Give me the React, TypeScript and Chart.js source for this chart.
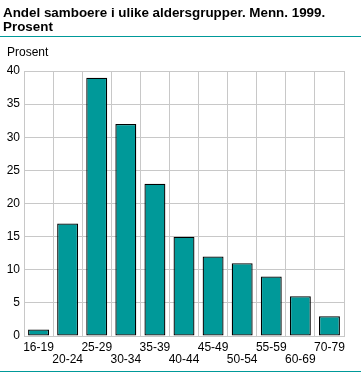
import React, { useEffect, useRef } from "react";
import { Chart, registerables } from "chart.js";

Chart.register(...registerables);

const titleLines = ["Andel samboere i ulike aldersgrupper. Menn. 1999.", "Prosent"];
const yAxisLabel = "Prosent";
const categories = ["16-19", "20-24", "25-29", "30-34", "35-39", "40-44", "45-49", "50-54", "55-59", "60-69", "70-79"];
const values = [1, 17, 39, 32, 23, 15, 12, 11, 9, 6, 3];
const yTicks = [0, 5, 10, 15, 20, 25, 30, 35, 40];

const TEAL = "#009999";
const GRID = "#c8c8c8";
const FONT = "'Liberation Sans', Arial, sans-serif";

const decorPlugin = {
  id: "decor",
  afterDraw(chart: any) {
    const ctx = chart.ctx;
    ctx.save();
    ctx.strokeStyle = TEAL;
    ctx.lineWidth = 1;
    ctx.beginPath();
    ctx.moveTo(0, 36.5);
    ctx.lineTo(361, 36.5);
    ctx.moveTo(0, 371.5);
    ctx.lineTo(361, 371.5);
    ctx.stroke();
    ctx.fillStyle = "#000";
    ctx.font = `12px ${FONT}`;
    ctx.textBaseline = "middle";
    ctx.textAlign = "left";
    ctx.fillText(yAxisLabel, 7, 53);
    ctx.restore();
  },
};

export default function App() {
  const ref = useRef<HTMLCanvasElement | null>(null);
  useEffect(() => {
    if (!ref.current) return;
    const chart = new Chart(ref.current, {
      type: "bar",
      data: {
        labels: categories,
        datasets: [
          {
            data: values,
            backgroundColor: TEAL,
            borderColor: "#000",
            borderWidth: 1.3,
            borderSkipped: false,
            barPercentage: 0.72,
            categoryPercentage: 1,
          },
        ],
      },
      options: {
        animation: false,
        responsive: false,
        devicePixelRatio: 1,
        layout: { padding: { left: 3, right: 17, top: 0, bottom: 0 } },
        plugins: {
          legend: { display: false },
          tooltip: { enabled: false },
          title: {
            display: true,
            text: titleLines,
            align: "start",
            color: "#000",
            font: { family: FONT, size: 13.4, weight: "bold", lineHeight: "14px" },
            padding: { top: 6, bottom: 37 },
          },
        },
        scales: {
          x: {
            grid: { color: GRID, drawTicks: false, offset: true },
            border: { color: GRID },
            ticks: {
              autoSkip: false,
              maxRotation: 0,
              minRotation: 0,
              padding: 5,
              color: "#000",
              font: { family: FONT, size: 12, lineHeight: 1.05 },
              callback: (_v: any, i: number) => (i % 2 === 0 ? categories[i] : ["", categories[i]]),
            },
            afterFit: (s: any) => {
              s.height = 38;
            },
          },
          y: {
            min: 0,
            max: 40,
            afterBuildTicks: (s: any) => {
              s.ticks = yTicks.map((v) => ({ value: v }));
            },
            grid: { color: GRID, drawTicks: false },
            border: { color: GRID },
            ticks: {
              padding: 4,
              color: "#000",
              font: { family: FONT, size: 12 },
            },
            afterFit: (s: any) => {
              s.width = 21;
            },
          },
        },
      },
      plugins: [decorPlugin],
    });
    return () => chart.destroy();
  }, []);
  return (
    <div style={{ position: "absolute", left: 0, top: 0, width: 361, height: 374, background: "#fff" }}>
      <canvas ref={ref} width={361} height={374} style={{ width: 361, height: 374, display: "block" }} />
    </div>
  );
}
